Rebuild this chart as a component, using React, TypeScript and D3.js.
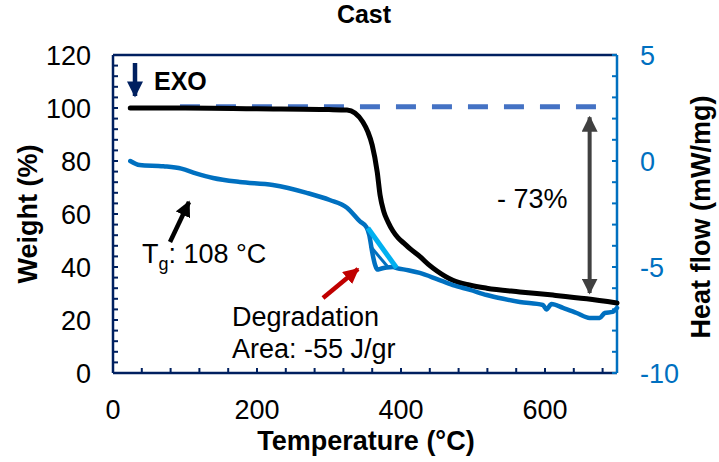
import React, { useEffect } from "react";
import * as d3 from "d3";

// weight loss curve (left axis)
const tempW = [24, 100, 200, 300, 325, 336, 347, 354, 360, 367, 371, 376, 382, 389, 396, 404, 412, 426, 438, 450, 472, 495, 519, 565, 611, 658, 700];
const weight = [100, 100, 99.7, 99.4, 99.2, 98.1, 94.7, 91, 86, 75.8, 67, 61, 57, 53.5, 51, 49, 47, 44, 41, 38.5, 35, 33.2, 32, 30.6, 29.4, 28, 26.4];

// heat flow curve (right axis)
const tempH = [24, 37, 70, 95, 115, 139, 176, 222, 269, 301, 325, 343, 352, 356, 360, 364, 367, 372, 380, 389, 394, 410, 426, 450, 472, 496, 519, 542, 565, 597, 602, 609, 625, 644, 662, 676, 683, 694, 700];
const heat = [0, -0.19, -0.25, -0.36, -0.58, -0.8, -0.99, -1.13, -1.5, -1.84, -2.2, -2.85, -3.12, -3.5, -4.3, -4.9, -5.12, -5.08, -5.02, -5.0, -5.05, -5.15, -5.28, -5.57, -5.85, -6.08, -6.32, -6.5, -6.65, -6.79, -7.0, -6.75, -6.93, -7.17, -7.4, -7.4, -7.17, -7.12, -6.93];

// integration baseline of the degradation peak
const baseT = [354, 394];
const baseH = [-3.16, -5.05];
const innerT = [357, 383];
const innerH = [-4.0, -5.05];

// 100% reference dash + mass loss arrow
const refT = [93, 676];
const refW = 100.5;
const lossT = 662;
const lossW = [96.5, 30.2];

const xTicks = [0, 200, 400, 600];
const yLTicks = [0, 20, 40, 60, 80, 100, 120];
const yRTicks = [-10, -5, 0, 5];

const navy = "#002060";
const blue = "#0070C0";
const font = "'Liberation Sans', Arial, sans-serif";
const fs = 27;

export default function App() {
  useEffect(() => {
    document.body.style.margin = "0";
  }, []);

  const W = 719, H = 462;
  const m = { left: 113, right: 617, top: 55, bottom: 373 };
  const x = d3.scaleLinear().domain([0, 700]).range([m.left, m.right]);
  const yL = d3.scaleLinear().domain([0, 120]).range([m.bottom, m.top]);
  const yR = d3.scaleLinear().domain([-10, 5]).range([m.bottom, m.top]);

  const wLine = d3.line<number>().x((d, i) => x(tempW[i])).y(d => yL(d)).curve(d3.curveMonotoneX);
  const hLine = d3.line<number>().x((d, i) => x(tempH[i])).y(d => yR(d)).curve(d3.curveMonotoneX);

  const minorX = d3.range(0, 701, 40);
  const minorL = d3.range(0, 121, 4);
  const minorR = d3.range(-10, 5.01, 1);

  return (
    <svg width={W} height={H} style={{ display: "block", fontFamily: font }}>
      <defs>
        <marker id="hd" viewBox="0 0 10 10" refX="9" refY="5" markerWidth="4" markerHeight="4" orient="auto-start-reverse">
          <path d="M0,0 L10,5 L0,10 z" fill="#404040" />
        </marker>
        <marker id="hk" viewBox="0 0 10 10" refX="9" refY="5" markerWidth="3.5" markerHeight="3.5" orient="auto">
          <path d="M0,0 L10,5 L0,10 z" fill="#000" />
        </marker>
        <marker id="hr" viewBox="0 0 10 10" refX="9" refY="5" markerWidth="3.5" markerHeight="3.5" orient="auto">
          <path d="M0,0 L10,5 L0,10 z" fill="#C00000" />
        </marker>
        <marker id="hn" viewBox="0 0 10 10" refX="9" refY="5" markerWidth="3.6" markerHeight="3.6" orient="auto">
          <path d="M0,0 L10,5 L0,10 z" fill={navy} />
        </marker>
      </defs>

      <text x={364} y={23} textAnchor="middle" fontSize={25} fontWeight="bold">Cast</text>

      {/* frame */}
      <line x1={m.left} x2={m.right} y1={m.top} y2={m.top} stroke={navy} strokeWidth={2.5} />
      <line x1={m.left} x2={m.right} y1={m.bottom} y2={m.bottom} stroke={navy} strokeWidth={2.5} />
      <line x1={m.left} x2={m.left} y1={m.top} y2={m.bottom} stroke={navy} strokeWidth={2.5} />
      <line x1={m.right} x2={m.right} y1={m.top} y2={m.bottom} stroke={blue} strokeWidth={2.5} />

      {minorX.map(t => (
        <line key={"x" + t} x1={x(t)} x2={x(t)} y1={m.bottom} y2={m.bottom - 5} stroke={navy} strokeWidth={2} />
      ))}
      {minorL.map(t => (
        <line key={"l" + t} x1={m.left} x2={m.left + 5} y1={yL(t)} y2={yL(t)} stroke={navy} strokeWidth={2} />
      ))}
      {minorR.map(t => (
        <line key={"r" + t} x1={m.right} x2={m.right - 5} y1={yR(t)} y2={yR(t)} stroke={blue} strokeWidth={2} />
      ))}

      {xTicks.map(t => (
        <text key={"xt" + t} x={x(t)} y={419} textAnchor="middle" fontSize={fs}>{t}</text>
      ))}
      {yLTicks.map(t => (
        <text key={"lt" + t} x={91} y={yL(t) + 10} textAnchor="end" fontSize={fs}>{t}</text>
      ))}
      {yRTicks.map(t => (
        <text key={"rt" + t} x={640} y={yR(t) + 10} textAnchor="start" fontSize={fs} fill={blue}>{t}</text>
      ))}

      <text x={366} y={450} textAnchor="middle" fontSize={fs} fontWeight="bold">Temperature (°C)</text>
      <text transform={`translate(37,${(m.top + m.bottom) / 2}) rotate(-90)`} textAnchor="middle" fontSize={fs} fontWeight="bold">Weight (%)</text>
      <text transform={`translate(710,${(m.top + m.bottom) / 2 + 3}) rotate(-90)`} textAnchor="middle" fontSize={fs} fontWeight="bold">Heat flow (mW/mg)</text>

      {/* reference dash */}
      <line x1={x(refT[0])} x2={x(refT[1])} y1={yL(refW)} y2={yL(refW)} stroke="#4472C4" strokeWidth={5} strokeDasharray="20 16" />

      {/* curves */}
      <path d={wLine(weight) || ""} fill="none" stroke="#000" strokeWidth={5} strokeLinecap="round" />
      <path d={hLine(heat) || ""} fill="none" stroke={blue} strokeWidth={4.5} strokeLinecap="round" />
      <line x1={x(baseT[0])} x2={x(baseT[1])} y1={yR(baseH[0])} y2={yR(baseH[1])} stroke="#00B0F0" strokeWidth={5} />
      <line x1={x(innerT[0])} x2={x(innerT[1])} y1={yR(innerH[0])} y2={yR(innerH[1])} stroke={blue} strokeWidth={3} />

      {/* mass loss arrow */}
      <line x1={x(lossT)} x2={x(lossT)} y1={yL(lossW[0])} y2={yL(lossW[1])} stroke="#404040" strokeWidth={4} markerStart="url(#hd)" markerEnd="url(#hd)" />
      <text x={497} y={208} fontSize={fs}>- 73%</text>

      {/* EXO */}
      <line x1={135} x2={135} y1={63} y2={96} stroke={navy} strokeWidth={4.5} markerEnd="url(#hn)" />
      <text x={154} y={90} fontSize={25} fontWeight="bold">EXO</text>

      {/* Tg */}
      <line x1={170} x2={189} y1={242} y2={202} stroke="#000" strokeWidth={4.5} markerEnd="url(#hk)" />
      <text x={142} y={263} fontSize={fs}>T<tspan fontSize={18} dy={7}>g</tspan><tspan dy={-7}>: 108 °C</tspan></text>

      {/* degradation */}
      <line x1={323} x2={358} y1={298} y2={269} stroke="#C00000" strokeWidth={4.5} markerEnd="url(#hr)" />
      <text x={232} y={326} fontSize={fs}>Degradation</text>
      <text x={232} y={358} fontSize={fs}>Area: -55 J/gr</text>
    </svg>
  );
}
